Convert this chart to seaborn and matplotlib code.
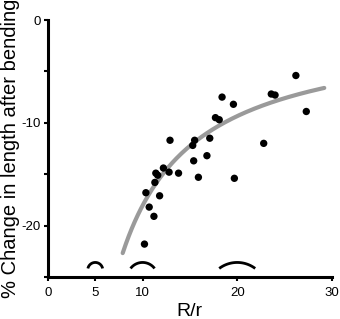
import numpy as np
import pandas as pd
import matplotlib
matplotlib.use("Agg")
import matplotlib.pyplot as plt
import seaborn as sns

# Data
ratio = [26.2, 23.6, 24.0, 27.3, 18.4, 19.6, 17.7, 18.1, 22.8, 19.7,
         12.9, 15.5, 15.3, 17.1, 15.4, 16.8, 15.9, 13.8, 12.2, 12.8,
         11.4, 11.6, 11.3, 10.35, 11.8, 10.7, 11.2, 10.2]
change = [-5.4, -7.2, -7.3, -8.9, -7.5, -8.2, -9.5, -9.7, -12.0, -15.4,
          -11.7, -11.7, -12.2, -11.5, -13.7, -13.2, -15.3, -14.9, -14.4, -14.8,
          -14.9, -15.1, -15.8, -16.8, -17.1, -18.2, -19.1, -21.8]
# fitted curve y = a + b / x (coefficients)
fit_a = -0.65
fit_b = -174.0
fit_range = [7.9, 29.2]
arc_centers = [5, 10, 20]
x_ticks = [0, 5, 10, 20, 30]
y_ticks = [0, -5, -10, -15, -20, -25]
y_labels = ["0", "", "-10", "", "-20", ""]

sns.set_theme(style="ticks")
plt.rcParams['font.family'] = ['Liberation Sans', 'DejaVu Sans']

fig = plt.figure(figsize=(3.4, 3.19), dpi=100)
ax = fig.add_axes([0.141, 0.1317, 0.835, 0.8056])

df = pd.DataFrame({"ratio": ratio, "change": change})

xf = np.linspace(fit_range[0], fit_range[1], 200)
fit_df = pd.DataFrame({"ratio": xf, "change": fit_a + fit_b / xf})
sns.lineplot(data=fit_df, x="ratio", y="change", ax=ax, color="#9a9a9a",
             linewidth=3.0, zorder=2)
sns.scatterplot(data=df, x="ratio", y="change", ax=ax, color="black",
                s=28, edgecolor="none", zorder=3)

# bending arcs
px_x = 9.47
px_y = 10.28
for k in arc_centers:
    R = 1.5 * k
    h = 6.0
    t0 = np.arccos((R - h) / R)
    t = np.linspace(-t0, t0, 60)
    xs = k + R * np.sin(t) / px_x
    ys = -24.17 + (R * np.cos(t) - (R - h)) / px_y
    ax.plot(xs, ys, color="black", linewidth=2.0, solid_capstyle="butt", zorder=3)

ax.set_xlim(0, 30)
ax.set_ylim(-25, 0)
ax.set_xticks(x_ticks)
ax.set_yticks(y_ticks)
ax.set_yticklabels(y_labels)
ax.tick_params(axis="both", labelsize=9.5, width=1.5, length=3, pad=2, colors="black")
ax.tick_params(axis="x", pad=4)
for side in ["top", "right"]:
    ax.spines[side].set_visible(False)
for side in ["left", "bottom"]:
    ax.spines[side].set_linewidth(2.2)
    ax.spines[side].set_color("black")
ax.set_xlabel("R/r", fontsize=14, labelpad=3, color="black")
ax.set_ylabel("% Change in length after bending", fontsize=14.5, labelpad=1, color="black")

fig.savefig("out.png", dpi=100)
